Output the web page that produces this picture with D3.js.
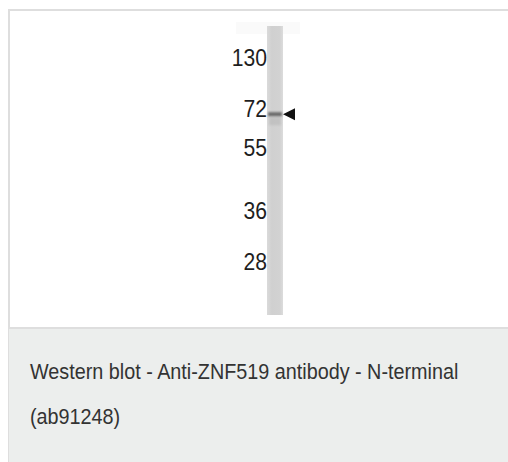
<!DOCTYPE html>
<html>
<head>
<meta charset="utf-8">
<script src="https://cdn.jsdelivr.net/npm/d3@7"></script>
<style>
  body { margin: 0; background: #fff; }
  text { font-family: 'Liberation Sans', Arial, sans-serif; }
</style>
</head>
<body>
<svg width="508" height="462"></svg>
<script>
// marker ladder (kDa) and where each one sits on the blot
const markers = [130, 72, 55, 36, 28]
const markerY = [57.5, 108, 147.5, 210.5, 261.5]

// detected band
const bands = [{ mw: 69, strength: 0.85 }]

const captionLines = [
  'Western blot - Anti-ZNF519 antibody - N-terminal',
  '(ab91248)'
]

const svg = d3.select('svg')
const width = +svg.attr('width')
const height = +svg.attr('height')

const panel = { left: 9, top: 10, bottom: 328 }
const lane = { x: 267, w: 16, top: 26, bottom: 315 }

// piecewise log scale, marker -> y
const yScale = d3.scaleLog()
  .domain(markers)
  .range(markerY)

// frame + caption box
svg.append('rect')
  .attr('x', panel.left).attr('y', panel.top)
  .attr('width', width - panel.left + 4).attr('height', height - panel.top + 4)
  .attr('fill', '#fff')
  .attr('stroke', '#dedede')
  .attr('stroke-width', 2)

svg.append('rect')
  .attr('x', panel.left).attr('y', panel.bottom)
  .attr('width', width - panel.left).attr('height', height - panel.bottom)
  .attr('fill', '#eceeed')

svg.append('line')
  .attr('x1', panel.left).attr('x2', width)
  .attr('y1', panel.bottom).attr('y2', panel.bottom)
  .attr('stroke', '#dedede')
  .attr('stroke-width', 2)

// faint smudge above lane
svg.append('rect')
  .attr('x', 236).attr('y', 22)
  .attr('width', 64).attr('height', 12)
  .attr('fill', '#fafafa')

// lane
const defs = svg.append('defs')
const grad = defs.append('linearGradient').attr('id', 'laneGrad')
  .attr('x1', 0).attr('x2', 1).attr('y1', 0).attr('y2', 0)
grad.append('stop').attr('offset', '0%').attr('stop-color', '#dadada')
grad.append('stop').attr('offset', '30%').attr('stop-color', '#d0d0d0')
grad.append('stop').attr('offset', '80%').attr('stop-color', '#d2d2d2')
grad.append('stop').attr('offset', '100%').attr('stop-color', '#dcdcdc')

svg.append('rect')
  .attr('x', lane.x).attr('y', lane.top)
  .attr('width', lane.w).attr('height', lane.bottom - lane.top)
  .attr('fill', 'url(#laneGrad)')

const blur = defs.append('filter').attr('id', 'soft')
blur.append('feGaussianBlur').attr('stdDeviation', 0.8)

// bands
const bandG = svg.append('g').attr('filter', 'url(#soft)')
bandG.selectAll('rect.band')
  .data(bands)
  .join('rect')
  .attr('class', 'band')
  .attr('x', lane.x + 1)
  .attr('y', d => yScale(d.mw) - 2)
  .attr('width', lane.w - 2)
  .attr('height', 4)
  .attr('fill', '#555')
  .attr('opacity', d => d.strength)
bandG.selectAll('rect.tail')
  .data(bands)
  .join('rect')
  .attr('class', 'tail')
  .attr('x', lane.x + 2)
  .attr('y', d => yScale(d.mw) + 3)
  .attr('width', lane.w - 4)
  .attr('height', 8)
  .attr('fill', '#b8b8b8')
  .attr('opacity', 0.6)

// arrow pointing at the band
svg.selectAll('path.arrow')
  .data(bands)
  .join('path')
  .attr('class', 'arrow')
  .attr('d', d => {
    const y = yScale(d.mw)
    const x0 = lane.x + lane.w
    return `M${x0},${y} L${x0 + 12},${y - 6} L${x0 + 12},${y + 6} Z`
  })
  .attr('fill', '#111')

// marker labels (slightly condensed like the scan)
svg.selectAll('text.mw')
  .data(markers)
  .join('text')
  .attr('class', 'mw')
  .attr('transform', d => `translate(${lane.x},${yScale(d) + 8.7}) scale(0.88,1)`)
  .attr('text-anchor', 'end')
  .attr('font-size', 24)
  .attr('fill', '#1e1e1e')
  .text(d => d)

// caption
svg.selectAll('text.caption')
  .data(captionLines)
  .join('text')
  .attr('class', 'caption')
  .attr('transform', (d, i) => `translate(30,${379 + i * 45}) scale(0.9,1)`)
  .attr('font-size', 22)
  .attr('fill', '#333')
  .text(d => d)
</script>
</body>
</html>
